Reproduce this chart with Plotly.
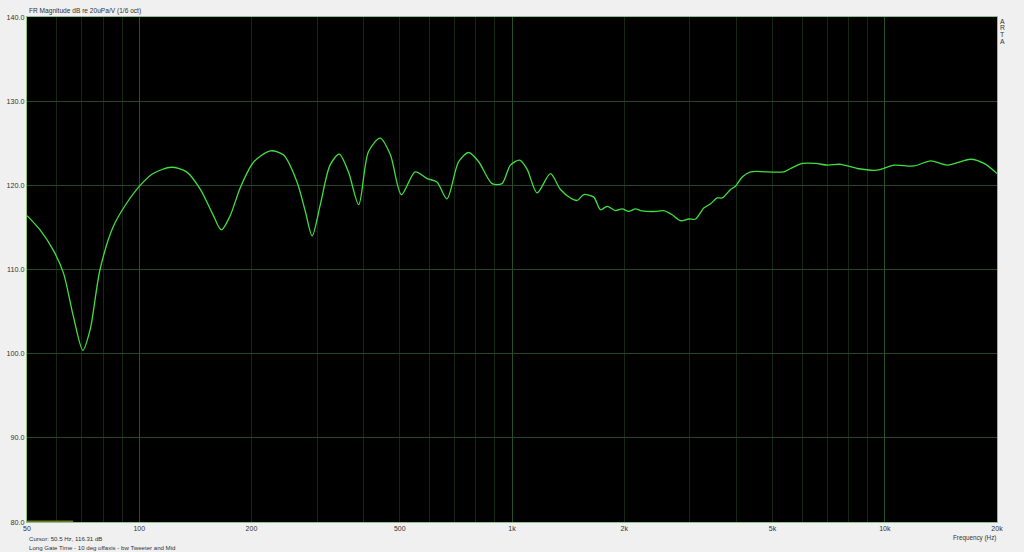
import plotly.graph_objects as go

# Frequency response (Hz, dB)
freq_hz = [50, 54.2, 58.8, 62.6, 66.6, 70.6, 73.8, 78.5, 85.2, 92.6, 100.6, 109, 122, 134,
           146, 157, 166, 175, 187, 203, 225, 244, 265, 279, 291, 306, 325, 344, 364, 388,
           412, 443, 472, 505, 550, 592, 629, 669, 719, 765, 814, 884, 940, 990, 1049,
           1098, 1168, 1268, 1349, 1435, 1496, 1558, 1657, 1727, 1800, 1895, 1975, 2057,
           2144, 2212, 2452, 2554, 2690, 2831, 2981, 3107, 3270, 3409, 3552, 3664, 3857,
           3978, 4146, 4364, 4838, 5360, 5589, 6010, 6525, 7015, 7615, 8440, 9550, 10585,
           11975, 13280, 14720, 17005, 18465, 20000]
mag_db = [116.4, 114.7, 112.3, 109.6, 104.4, 100.4, 102.8, 110.0, 115.1, 117.9, 120.0, 121.4,
          122.15, 121.6, 119.5, 116.7, 114.7, 116.3, 119.8, 122.8, 124.1, 123.6, 120.4, 116.9,
          114.0, 117.7, 122.4, 123.7, 121.6, 117.7, 124.0, 125.6, 123.6, 118.9, 121.6, 120.8,
          120.4, 118.4, 122.8, 123.9, 122.8, 120.2, 120.2, 122.4, 123.0, 121.9, 119.1, 121.4,
          119.5, 118.5, 118.2, 118.9, 118.6, 117.1, 117.5, 117.0, 117.2, 116.9, 117.2, 117.0,
          116.9, 117.0, 116.5, 115.8, 116.0, 116.0, 117.3, 117.8, 118.5, 118.5, 119.5, 119.9,
          121.0, 121.6, 121.6, 121.6, 122.0, 122.6, 122.6, 122.4, 122.5, 122.0, 121.8, 122.4,
          122.3, 122.9, 122.4, 123.1, 122.6, 121.4]

x_tick_vals = [50, 100, 200, 500, 1000, 2000, 5000, 10000, 20000]
x_tick_text = ["50", "100", "200", "500", "1k", "2k", "5k", "10k", "20k"]
decade_vals = [100, 1000, 10000]
y_tick_vals = [80, 90, 100, 110, 120, 130, 140]
cursor_band_hz = [50, 66.5]
cursor_band_db = [80, 80]

title_text = "FR Magnitude dB re 20uPa/V (1/6 oct)"
side_letters = ["A", "R", "T", "A"]
cursor_text = "Cursor: 50.5 Hz, 116.31 dB"
note_text = "Long Gate Time - 10 deg offaxis - bw Tweeter and Mid"
xlabel_text = "Frequency (Hz)"

FONT = "Liberation Sans, Arial, sans-serif"
TXT = "#333333"

fig = go.Figure()
fig.add_trace(go.Scatter(x=cursor_band_hz, y=cursor_band_db, mode="lines",
                         line=dict(color="#6e7a20", width=3), hoverinfo="skip",
                         showlegend=False, cliponaxis=False))
fig.add_trace(go.Scatter(x=freq_hz, y=mag_db, mode="lines",
                         line=dict(color="#3fe03f", width=1.3, shape="spline", smoothing=0.8),
                         showlegend=False))
# decade grid overlay axis
fig.add_trace(go.Scatter(x=[50, 20000], y=[80, 80], xaxis="x2", mode="lines",
                         line=dict(width=0), hoverinfo="skip", showlegend=False))

annotations = [
    dict(text=title_text, xref="paper", yref="paper", x=0, y=1, xanchor="left",
         yanchor="middle", xshift=0, yshift=6, showarrow=False,
         font=dict(size=6.6, color=TXT)),
    dict(text=cursor_text, xref="paper", yref="paper", x=0, y=0, xanchor="left",
         yanchor="middle", xshift=0, yshift=-16, showarrow=False,
         font=dict(size=6.1, color=TXT)),
    dict(text=note_text, xref="paper", yref="paper", x=0, y=0, xanchor="left",
         yanchor="middle", xshift=0, yshift=-25, showarrow=False,
         font=dict(size=6.1, color=TXT)),
    dict(text=xlabel_text, xref="paper", yref="paper", x=1, y=0, xanchor="right",
         yanchor="middle", xshift=1, yshift=-16, showarrow=False,
         font=dict(size=6.3, color=TXT)),
]
for i, ch in enumerate(side_letters):
    annotations.append(dict(text=ch, xref="paper", yref="paper", x=1, y=1, xanchor="center",
                            yanchor="middle", xshift=5, yshift=-4 - 6.7 * i, showarrow=False,
                            font=dict(size=6.8, color=TXT)))

fig.update_layout(
    width=1024, height=552,
    margin=dict(l=27, r=27, t=17, b=30, autoexpand=False),
    paper_bgcolor="#f0f0f0", plot_bgcolor="#000000",
    font=dict(family=FONT, size=7, color=TXT),
    xaxis=dict(type="log", range=[1.69897, 4.30103], tickvals=x_tick_vals, ticktext=x_tick_text,
               showgrid=False, zeroline=False, ticks="", ticklen=0, automargin=False,
               tickfont=dict(size=7, color=TXT),
               showline=True, linecolor="#8fc08f", linewidth=1, mirror=True,
               minor=dict(dtick="D1", showgrid=True, gridcolor="#142814", gridwidth=1, ticks="")),
    xaxis2=dict(type="log", range=[1.69897, 4.30103], overlaying="x", tickvals=decade_vals,
                showticklabels=False, showgrid=True, gridcolor="#27502a", gridwidth=1,
                zeroline=False, ticks="", automargin=False),
    yaxis=dict(range=[80, 140], tickvals=y_tick_vals, tickformat=".1f", automargin=False,
               showgrid=True, gridcolor="#264426", gridwidth=1, zeroline=False, ticks="",
               tickfont=dict(size=7.2, color=TXT),
               showline=True, linecolor="#9cc060", linewidth=1, mirror=True),
    annotations=annotations,
)

fig.write_html(
    "out.html",
    config={"displayModeBar": False},
    post_script="document.body.style.margin='0';document.body.style.overflow='hidden';"
                "document.body.style.background='#f0f0f0';",
)
